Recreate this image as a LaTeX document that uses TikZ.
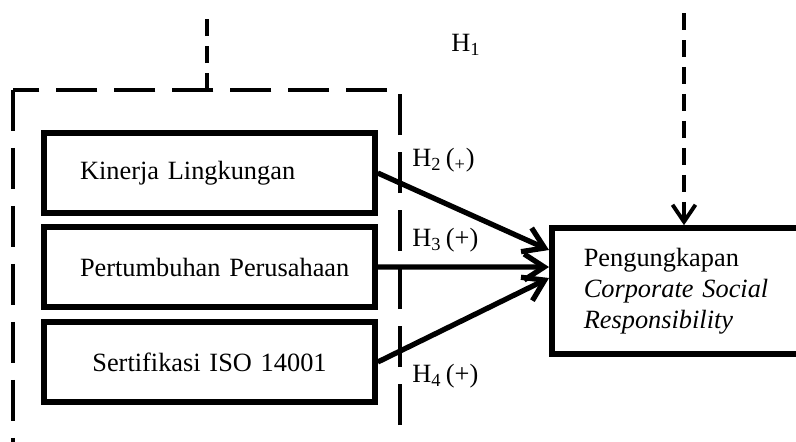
\documentclass[tikz,border=0pt]{standalone}
\usepackage{fontspec}
\setmainfont{Liberation Serif}
\usetikzlibrary{arrows.meta}
\begin{document}
\begin{tikzpicture}[x=0.02cm,y=-0.02cm,font=\fontsize{15}{17.5}\selectfont,
	box/.style={draw,line width=3.2pt,minimum height=1.6cm,text width=5.18cm,inner xsep=0.72cm,inner ysep=0pt},
	grp/.style={line width=2.8pt,dash pattern=on 0.82cm off 0.34cm},
	hyp/.style={line width=2.4pt,dash pattern=on 0.34cm off 0.2cm},
	arr/.style={line width=3pt,-{Straight Barb[length=0.4cm,width=0.52cm,line width=3pt]}},
	lbl/.style={inner sep=0pt,anchor=west}]
	\useasboundingbox (0,0) rectangle (796,441);
	\clip (0,0) rectangle (796,441);
	\node[box,align=left] (n1) at (209.5,173) {Kinerja Lingkungan};
	\node[box,align=left] (n2) at (209.5,267) {\mbox{Pertumbuhan Perusahaan}};
	\node[box,align=center] (n3) at (209.5,362) {Sertifikasi ISO 14001};
	\node[box,anchor=west,minimum height=2.52cm,text width=5cm,inner xsep=0.64cm,align=left] (n4) at (549,291)
		{Pengungkapan\\\textit{Corporate Social}\\\textit{Responsibility}};
	\coordinate (g) at (207,90);
	\coordinate (t1) at (207,15);
	\coordinate (t2) at (684,13);
	\draw[grp] (13,90) rectangle (400,470);
	\draw[hyp] (g) -- (t1);
	\draw[hyp,-{Straight Barb[length=0.34cm,width=0.46cm,line width=2.2pt]}] (t2) -- (t2 |- n4.north);
	\draw[arr] (n1.east) -- ([yshift=0.82cm]n4.west);
	\draw[arr] (n2.east) -- ([yshift=0.48cm]n4.west);
	\draw[arr] (n3.east) -- ([yshift=0.26cm]n4.west);
	\node[lbl] (h1) at (451,45) {H\textsubscript{1}};
	\node[lbl] (h2) at (412,160) {H\textsubscript{2}\,(\textsubscript{+})};
	\node[lbl] (h3) at (412,240) {H\textsubscript{3}\,(+)};
	\node[lbl] (h4) at (412,376) {H\textsubscript{4}\,(+)};
\end{tikzpicture}
\end{document}
